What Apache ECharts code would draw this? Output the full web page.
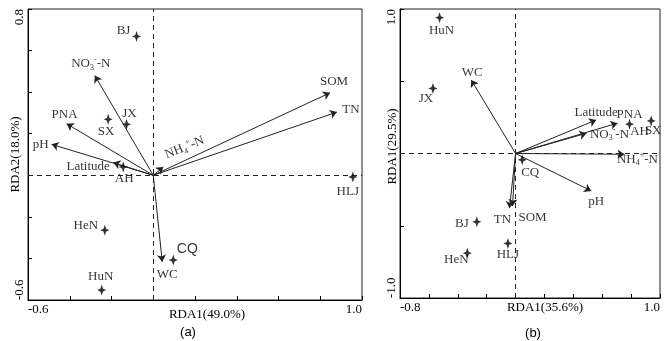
<!DOCTYPE html>
<html>
<head>
<meta charset="utf-8">
<title>RDA biplots</title>
<script src="https://cdn.jsdelivr.net/npm/echarts@6/dist/echarts.min.js"></script>
<style>
    html, body { margin: 0; padding: 0; background: #fff; }
    #chartBox { width: 665px; height: 341px; }
</style>
</head>
<body>
<div id="chartBox"></div>
<script>
// ---- panel (a) ----
var siteNamesA = ['BJ', 'JX', 'SX', 'AH', 'HLJ', 'HeN', 'HuN', 'CQ'];
var siteXA = [-0.080, -0.128, -0.216, -0.144, 0.956, -0.232, -0.247, 0.096];
var siteYA = [0.668, 0.245, 0.269, 0.040, -0.008, -0.264, -0.552, -0.408];
var envNamesA = ['SOM', 'TN', 'NO3-N', 'PNA', 'pH', 'Latitude', 'NH4-N', 'WC'];
var envXA = [0.847, 0.880, -0.280, -0.415, -0.487, -0.192, 0.048, 0.043];
var envYA = [0.397, 0.304, 0.480, 0.248, 0.149, 0.061, 0.040, -0.416];
var xTicksA = [-0.6, 1.0];
var yTicksA = [-0.6, 0.8];

// ---- panel (b) ----
var siteNamesB = ['HuN', 'JX', 'AH', 'SX', 'CQ', 'BJ', 'HeN', 'HLJ'];
var siteXB = [-0.526, -0.572, 0.789, 0.939, 0.046, -0.268, -0.334, -0.053];
var siteYB = [0.940, 0.450, 0.203, 0.225, -0.044, -0.473, -0.690, -0.622];
var envNamesB = ['WC', 'Latitude', 'PNA', 'NO3-N', 'NH4-N', 'pH', 'TN', 'SOM'];
var envXB = [-0.307, 0.558, 0.706, 0.491, 0.754, 0.524, -0.042, -0.021];
var envYB = [0.509, 0.232, 0.210, 0.140, -0.005, -0.259, -0.378, -0.364];
var xTicksB = [-0.8, 1.0];
var yTicksB = [-1.0, 1.0];

// label placement (pixels from the point)
var siteOffA = {BJ: [-13, -6], JX: [3, -11], SX: [-2, 12], AH: [1, 12], HLJ: [-5, 15], HeN: [-19, -5], HuN: [-1, -13], CQ: [14, -11]};
var envOffA = {SOM: [4, -11], TN: [14, -3], 'NO3-N': [-4, -12], PNA: [-2, -9], pH: [-11, 0], Latitude: [-25, 4], 'NH4-N': [27, -10], WC: [5, 13]};
var siteOffB = {HuN: [2, 13], JX: [-7, 10], AH: [10, 7], SX: [2, 10], CQ: [8, 13], BJ: [-15, 2], HeN: [-11, 6], HLJ: [0, 11]};
var envOffB = {WC: [1, -7], Latitude: [0, -7], PNA: [12, -9], 'NO3-N': [23, 1], 'NH4-N': [13, 5], pH: [5, 11], TN: [-7, 11], SOM: [20, 11]};

var serif = '"Liberation Serif", "Times New Roman", serif';
var sans = '"Liberation Sans", Arial, sans-serif';
var ink = '#000';
var star = 'path://M0,-6 L1.5,-1.5 L5,0 L1.5,1.5 L0,6 L-1.5,1.5 L-5,0 L-1.5,-1.5 Z';

var rich = {
    sub: {fontSize: 8, fontFamily: serif, color: ink, verticalAlign: 'bottom', lineHeight: 16},
    sup: {fontSize: 8, fontFamily: serif, color: ink, verticalAlign: 'top', lineHeight: 16}
};
var labelText = {
    'NO3-N': 'NO{sub|3}{sup|-}-N',
    'NH4-N': 'NH{sub|4}{sup|+}-N'
};

function xAxisOf(grid, ticks, step, name, gap, pad) {
    return {
        gridIndex: grid, type: 'value', min: ticks[0], max: ticks[1], interval: step,
        name: name, nameLocation: 'middle', nameGap: gap, nameMoveOverlap: false,
        nameTextStyle: {fontFamily: serif, fontSize: 13, color: ink, padding: pad},
        axisLine: {show: true, onZero: false, lineStyle: {color: ink}},
        axisTick: {show: true, inside: true, length: 4, lineStyle: {color: ink}},
        axisLabel: {
            margin: 3, fontFamily: serif, fontSize: 13, color: ink,
            alignMinLabel: 'left', alignMaxLabel: 'right',
            formatter: function (v) {
                return (Math.abs(v - ticks[0]) < 1e-6 || Math.abs(v - ticks[1]) < 1e-6) ? v.toFixed(1) : '';
            }
        },
        splitLine: {show: false}
    };
}

function yAxisOf(grid, ticks, step, name, gap, pad) {
    var ax = xAxisOf(grid, ticks, step, name, gap, pad);
    ax.nameRotate = 90;
    ax.axisLabel.rotate = 90;
    ax.axisLabel.margin = 2;
    return ax;
}

function panelSeries(grid, sites, sx, sy, sOff, envs, ex, ey, eOff, cqSans) {
    var arrows = {
        type: 'lines', coordinateSystem: 'cartesian2d', xAxisIndex: grid, yAxisIndex: grid,
        symbol: ['none', 'arrow'], symbolSize: [0, 7], silent: true, z: 3,
        lineStyle: {color: '#222', width: 1, opacity: 1, curveness: 0},
        data: envs.map(function (n, i) {
            return {coords: [[0, 0], [ex[i], ey[i]]]};
        })
    };
    var envLabels = {
        type: 'scatter', xAxisIndex: grid, yAxisIndex: grid, silent: true, z: 4,
        symbol: 'circle', symbolSize: 1, itemStyle: {color: 'rgba(0,0,0,0)'},
        label: {show: true, position: 'inside', fontFamily: serif, fontSize: 13, color: ink, rich: rich,
            formatter: function (p) { return labelText[p.name] || p.name; }},
        data: envs.map(function (n, i) {
            var lb = {offset: eOff[n]};
            if (grid === 0 && n === 'NH4-N') lb.rotate = 22;
            return {name: n, value: [ex[i], ey[i]], label: lb};
        })
    };
    var points = {
        type: 'scatter', xAxisIndex: grid, yAxisIndex: grid, silent: true, z: 5,
        symbol: star, symbolSize: [9, 11], itemStyle: {color: '#000'},
        label: {show: true, position: 'inside', fontFamily: serif, fontSize: 13, color: ink,
            formatter: '{b}'},
        markLine: {
            silent: true, symbol: ['none', 'none'], label: {show: false}, z: 1,
            lineStyle: {color: '#222', width: 1, type: [5, 4]},
            data: [{xAxis: 0}, {yAxis: 0}]
        },
        data: sites.map(function (n, i) {
            var lb = {offset: sOff[n]};
            if (cqSans && n === 'CQ') { lb.fontFamily = sans; lb.fontSize = 14; }
            return {name: n, value: [sx[i], sy[i]], label: lb};
        })
    };
    return [arrows, envLabels, points];
}

function drawChart() {
    var myChart = echarts.init(document.getElementById('chartBox'));
    var option = {
        animation: false,
        backgroundColor: '#fff',
        grid: [
            {left: 28, top: 9, width: 334, height: 291, show: true, borderColor: '#222', borderWidth: 1, outerBoundsMode: 'none', containLabel: false},
            {left: 400, top: 9, width: 260, height: 289, show: true, borderColor: '#222', borderWidth: 1, outerBoundsMode: 'none', containLabel: false}
        ],
        xAxis: [
            xAxisOf(0, xTicksA, 0.2, 'RDA1(49.0%)', 8, [0, 0, 0, 24]),
            xAxisOf(1, xTicksB, 0.2, 'RDA1(35.6%)', 3, [0, 0, 0, 30])
        ],
        yAxis: [
            yAxisOf(0, yTicksA, 0.2, 'RDA2(18.0%)', 6, [0, 0, 0, 0]),
            yAxisOf(1, yTicksB, 0.5, 'RDA1(29.5%)', 1, [0, 0, 0, 14])
        ],
        graphic: [
            {type: 'text', x: 188, y: 332, style: {text: '(a)', font: '13px ' + sans, fill: ink, align: 'center', verticalAlign: 'middle'}},
            {type: 'text', x: 533, y: 333, style: {text: '(b)', font: '13px ' + sans, fill: ink, align: 'center', verticalAlign: 'middle'}}
        ],
        series: [].concat(
            panelSeries(0, siteNamesA, siteXA, siteYA, siteOffA, envNamesA, envXA, envYA, envOffA, true),
            panelSeries(1, siteNamesB, siteXB, siteYB, siteOffB, envNamesB, envXB, envYB, envOffB, false)
        )
    };
    myChart.setOption(option);
}

drawChart();
</script>
</body>
</html>
